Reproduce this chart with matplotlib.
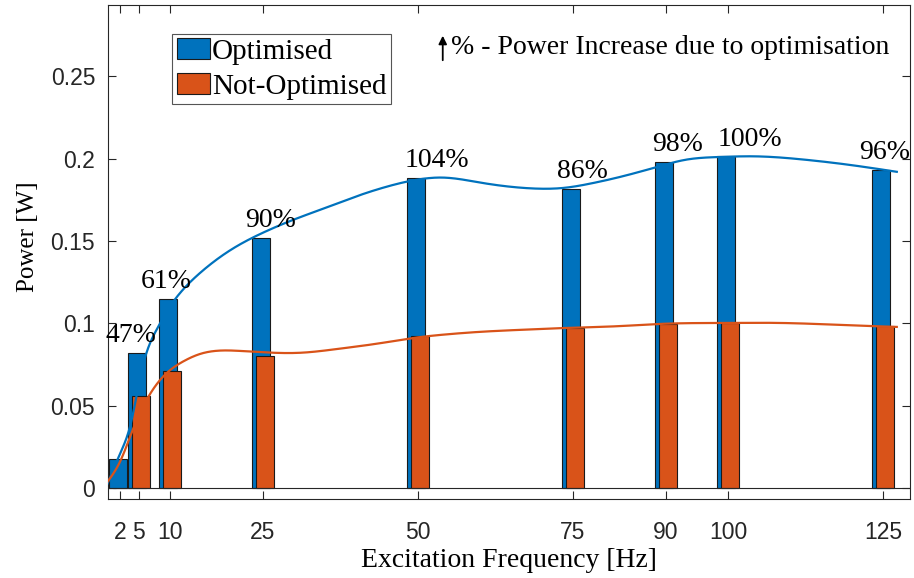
import numpy as np
import matplotlib
matplotlib.use('Agg')
import matplotlib.pyplot as plt
from matplotlib.patches import FancyArrowPatch

# bar data
freq = [2, 5, 10, 25, 50, 75, 90, 100, 125]
optimised = [0.0175, 0.0822, 0.115, 0.152, 0.1883, 0.1816, 0.198, 0.2014, 0.1933]
not_optimised = [0.012, 0.056, 0.0711, 0.080, 0.0923, 0.097, 0.0994, 0.1004, 0.0984]
increase = ['', '47%', '61%', '90%', '104%', '86%', '98%', '100%', '96%']

# fitted curves (Hz, W)
fit_opt_x = [0, 2, 3.9, 5, 6, 8, 10, 12.5, 15, 20, 25, 30, 35, 40, 45, 50, 54, 60,
             68, 73.4, 78, 82.6, 88.5, 93.3, 98.7, 104, 112, 120, 127.2]
fit_opt_y = [0.003, 0.021, 0.042, 0.063, 0.079, 0.097, 0.110, 0.122, 0.131, 0.145,
             0.155, 0.163, 0.170, 0.177, 0.1830, 0.1873, 0.1885, 0.1855, 0.182, 0.1822,
             0.185, 0.1889, 0.1949, 0.1994, 0.201, 0.2014, 0.1995, 0.196, 0.192]
fit_not_x = [0, 2.1, 4.1, 6.8, 9, 12.2, 14.9, 18.6, 21.9, 25.6, 31, 37, 43.9, 49.3,
             55, 60, 67, 73.4, 82.6, 89.6, 98.7, 108.4, 120.2, 127.2]
fit_not_y = [0.004, 0.017, 0.036, 0.057, 0.068, 0.077, 0.0815, 0.0836, 0.0832, 0.0824,
             0.0822, 0.0845, 0.0880, 0.0912, 0.0935, 0.0949, 0.0962, 0.0972, 0.0984,
             0.0998, 0.1003, 0.1003, 0.0988, 0.0979]

# layout tweaks for the % labels (Hz shift from the bar)
label_dx = [0, -1.2, -0.6, 1.3, 3.1, 1.6, 1.9, 3.5, 0.3]

BLUE = '#0072BD'
ORANGE = '#D95319'
AXC = '#262626'
SERIF = 'Liberation Serif'
SANS = 'Liberation Sans'


def smooth(x, y, n=800):
    # natural cubic spline through the traced points, just to draw them smoothly
    x = np.asarray(x, float)
    y = np.asarray(y, float)
    m = len(x)
    h = np.diff(x)
    A = np.zeros((m, m))
    r = np.zeros(m)
    A[0, 0] = A[-1, -1] = 1
    for i in range(1, m - 1):
        A[i, i - 1] = h[i - 1]
        A[i, i] = 2 * (h[i - 1] + h[i])
        A[i, i + 1] = h[i]
        r[i] = 3 * ((y[i + 1] - y[i]) / h[i] - (y[i] - y[i - 1]) / h[i - 1])
    c = np.linalg.solve(A, r)
    b = (y[1:] - y[:-1]) / h - h * (2 * c[:-1] + c[1:]) / 3
    d = (c[1:] - c[:-1]) / (3 * h)
    xs = np.linspace(x[0], x[-1], n)
    k = np.clip(np.searchsorted(x, xs) - 1, 0, m - 2)
    t = xs - x[k]
    return xs, y[k] + b[k] * t + c[k] * t ** 2 + d[k] * t ** 3


fig = plt.figure(figsize=(9.14, 5.78), dpi=100)
ax = fig.add_axes([0.1178, 0.1367, 0.8783, 0.8555])

x = np.array(freq, float)
width = 2.9
b1 = ax.bar(x - 0.3, optimised, width, color=BLUE, edgecolor='#1a1a1a', linewidth=0.8,
            label='Optimised', zorder=2)
b2 = ax.bar(x + 0.3, not_optimised, width, color=ORANGE, edgecolor='#1a1a1a', linewidth=0.8,
            label='Not-Optimised', zorder=2)
# the 2 Hz optimised bar sits in front
b2.patches[0].set_zorder(1)
b1.patches[0].set_zorder(3)

ax.axhline(0, color=AXC, lw=0.8, zorder=4)

ax.plot(*smooth(fit_opt_x, fit_opt_y), color=BLUE, lw=1.6, zorder=5)
ax.plot(*smooth(fit_not_x, fit_not_y), color=ORANGE, lw=1.6, zorder=5)

for xi, yi, s, dx in zip(freq, optimised, increase, label_dx):
    if s:
        ax.text(xi + dx, yi + 0.0105, s, ha='center', va='center',
                fontsize=20, family=SERIF, zorder=6)

ax.set_xlim(0, 129.4)
ax.set_ylim(-0.0065, 0.2935)
ax.set_xticks(freq)
ax.set_xticklabels([str(f) for f in freq])
ax.set_yticks([0, 0.05, 0.1, 0.15, 0.2, 0.25])
ax.set_yticklabels(['0', '0.05', '0.1', '0.15', '0.2', '0.25'])
ax.tick_params(direction='in', top=True, right=True, length=6, width=0.8,
               colors=AXC, labelsize=16.5)
ax.tick_params(axis='x', pad=16)
ax.tick_params(axis='y', pad=9)
for lab in ax.get_xticklabels() + ax.get_yticklabels():
    lab.set_family(SANS)
for sp in ax.spines.values():
    sp.set_color(AXC)
    sp.set_linewidth(0.8)

ax.set_xlabel('Excitation Frequency [Hz]', fontsize=20, family=SERIF)
ax.xaxis.set_label_coords(0.5, -0.0985)
ax.set_ylabel('Power [W]', fontsize=18, family=SERIF)
ax.yaxis.set_label_coords(-0.085, 0.53)

leg = ax.legend(handles=[b1, b2], loc='upper left', bbox_to_anchor=(0.0806, 0.9406),
                borderaxespad=0, prop={'family': SERIF, 'size': 21}, fancybox=False,
                handlelength=1.15, handleheight=0.7, handletextpad=0.05,
                labelspacing=0.3, borderpad=0.15, framealpha=1)
leg.get_frame().set_edgecolor('#555555')
leg.get_frame().set_linewidth(0.8)

fig.patches.append(FancyArrowPatch(
    (0.4844, 0.891), (0.4844, 0.943), transform=fig.transFigure,
    arrowstyle='-|>', mutation_scale=12, color='black', lw=1.3))
fig.text(0.4935, 0.917, '% - Power Increase due to optimisation', fontsize=20,
         family=SERIF, va='center', ha='left')

fig.savefig('out.png', dpi=100)
